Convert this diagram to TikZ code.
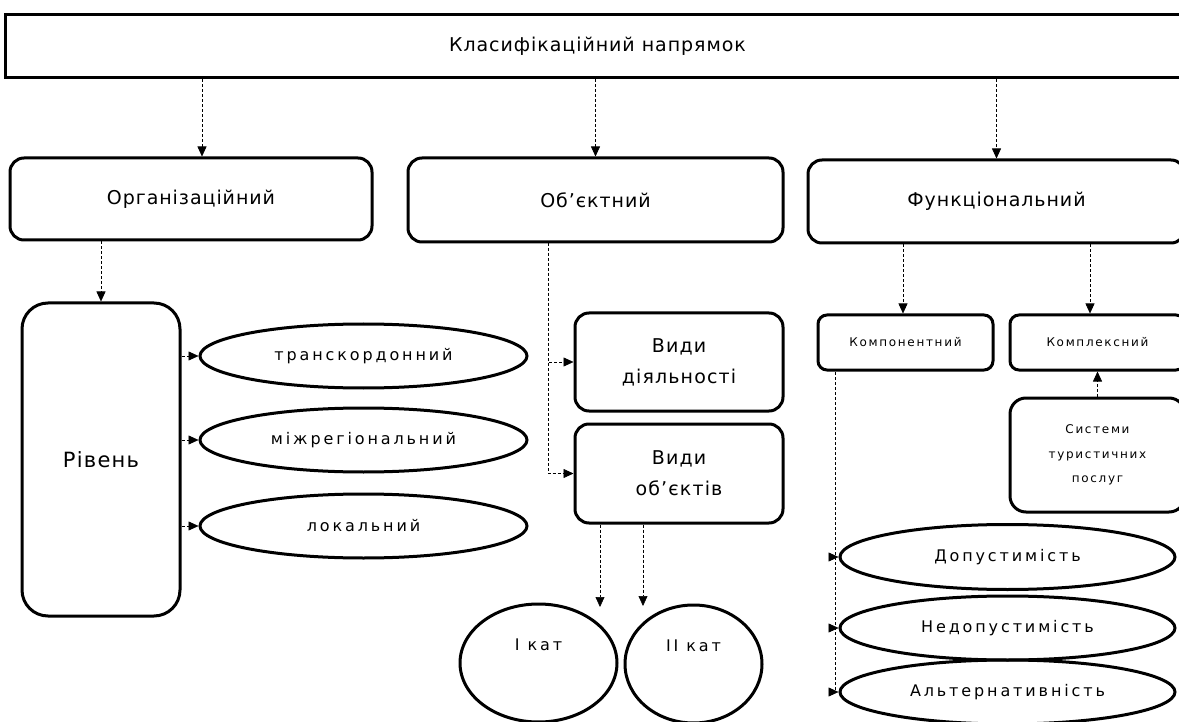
\documentclass[tikz,border=0pt]{standalone}
\usepackage{fontspec}
\setmainfont{DejaVu Sans}
\newfontfamily\widefont[LetterSpace=5]{DejaVu Sans}
\newfontfamily\widerfont[LetterSpace=18]{DejaVu Sans}
\newfontfamily\smlfont[LetterSpace=14]{DejaVu Sans}
\newfontfamily\boxfont[LetterSpace=6]{DejaVu Sans}
\usetikzlibrary{shapes.geometric,arrows.meta}
\begin{document}
\begin{tikzpicture}[x=1pt,y=-1pt,
  box/.style={draw,line width=3pt,rounded corners=14pt,inner sep=0pt,align=center},
  oval/.style={draw,line width=3pt,ellipse,inner sep=0pt,align=center},
  conn/.style={line width=0.6pt,densely dashed},
  arr/.style={conn,-{Triangle[length=10pt,width=9pt]}},
  big/.style={font=\widefont\fontsize{19}{22}\selectfont},
  vid/.style={font=\boxfont\fontsize{19}{31}\selectfont},
  mid/.style={font=\widerfont\fontsize{16}{17}\selectfont},
  sml/.style={font=\smlfont\fontsize{12}{24.5}\selectfont}]
\useasboundingbox (0,0) rectangle (1179,722);
\clip (0,0) rectangle (1179,722);
% top
\node[box,rounded corners=0pt,minimum width=1185pt,minimum height=63pt,big] (top) at (597.5,46.5) {Класифікаційний напрямок};
% level 2
\node[box,minimum width=362pt,minimum height=82pt,big] (org) at (191,199) {Організаційний};
\node[box,minimum width=375pt,minimum height=84pt,big] (obj) at (595.5,200) {Об’єктний};
\node[box,minimum width=377pt,minimum height=83pt,big] (fun) at (996.5,201.5) {Функціональний};
\draw[arr] (org.north -| 202,0) coordinate (o1) (top.south -| o1) -- (o1);
\draw[arr] (top.south -| obj.north) -- (obj.north);
\draw[arr] (top.south -| fun.north) -- (fun.north);
% organisational branch
\node[box,rounded corners=26pt,minimum width=158pt,minimum height=313pt,font=\boxfont\fontsize{21}{22}\selectfont] (riv) at (101,459.5) {Рівень};
\draw[arr] (org.south -| riv.north) -- (riv.north);
\node[oval,minimum width=327pt,minimum height=64pt,mid] (e1) at (363.5,356) {транскордонний};
\node[oval,minimum width=327pt,minimum height=64pt,mid] (e2) at (363.5,440) {міжрегіональний};
\node[oval,minimum width=327pt,minimum height=64pt,mid] (e3) at (363.5,526) {локальний};
\foreach \e in {e1,e2,e3} \draw[arr] (riv.east |- \e.west) -- (\e.west);
% object branch
\node[box,minimum width=208pt,minimum height=98pt,vid] (vd) at (679,362) {Види\\діяльності};
\node[box,minimum width=208pt,minimum height=99pt,vid] (vo) at (679,473.5) {Види\\об’єктів};
\coordinate (ob) at (548,243);
\draw[arr] (ob) |- (vd.west);
\draw[arr] (ob) |- (vo.west);
\node[oval,minimum width=157pt,minimum height=118pt,mid] (c1) at (538.5,663) {І кат\\[20pt]\mbox{}};
\node[oval,minimum width=137pt,minimum height=118pt,mid] (c2) at (693.5,664) {ІІ кат\\[20pt]\mbox{}};
\coordinate (c1a) at (600,607);
\coordinate (c2a) at (643,606);
\draw[arr] (vo.south -| c1a) -- (c1a);
\draw[arr] (vo.south -| c2a) -- (c2a);
% functional branch
\node[box,rounded corners=9pt,minimum width=175pt,minimum height=55pt,sml] (s1) at (905.5,342.5) {Компонентний};
\node[box,rounded corners=9pt,minimum width=175pt,minimum height=55pt,sml] (s2) at (1097.5,342.5) {Комплексний};
\node[box,rounded corners=16pt,minimum width=175pt,minimum height=114pt,sml] (s3) at (1097.5,455) {Системи\\туристичних\\послуг};
\draw[arr] (fun.south -| 903,0) coordinate (f1) (fun.south -| f1) -- (s1.north -| f1);
\draw[arr] (fun.south -| 1090,0) coordinate (f2) (fun.south -| f2) -- (s2.north -| f2);
\draw[arr] (s3.north) -- (s2.south);
\node[oval,minimum width=335pt,minimum height=65pt,mid] (d1) at (1007.5,557) {Допустимість};
\node[oval,minimum width=335pt,minimum height=64pt,mid] (d2) at (1007.5,628) {Недопустимість};
\node[oval,minimum width=335pt,minimum height=64pt,mid] (d3) at (1007.5,692) {Альтернативність};
\coordinate (fs) at (835,372);
\foreach \d in {d1,d2,d3} \draw[arr] (fs) |- (\d.west);
\end{tikzpicture}
\end{document}
